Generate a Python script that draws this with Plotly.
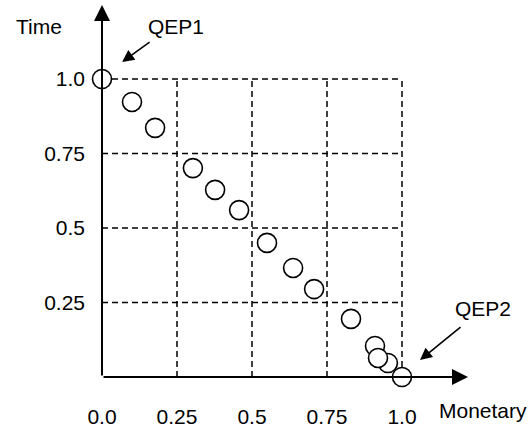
import plotly.graph_objects as go

# Data
monetary = [0.0, 0.10, 0.177, 0.303, 0.377, 0.457, 0.55, 0.637, 0.707, 0.83, 0.91, 0.953, 0.92, 1.0]
time_vals = [1.0, 0.923, 0.836, 0.701, 0.628, 0.560, 0.45, 0.366, 0.295, 0.195, 0.104, 0.047, 0.064, 0.0]
x_ticks = [0.0, 0.25, 0.5, 0.75, 1.0]
x_tick_labels = ["0.0", "0.25", "0.5", "0.75", "1.0"]
y_ticks = [0.25, 0.5, 0.75, 1.0]
y_tick_labels = ["0.25", "0.5", "0.75", "1.0"]
grid_vals = [0.25, 0.5, 0.75, 1.0]

FONT = "Liberation Sans, Arial, Helvetica, sans-serif"
FS = 21

W, H = 531, 428
ml, mr, mt, mb = 102, 63, 5, 51
xmax = (W - ml - mr) / 300.0
ymax = (H - mt - mb) / 298.0

fig = go.Figure()
fig.add_trace(go.Scatter(
    x=monetary, y=time_vals, mode="markers",
    marker=dict(size=19, color="white", line=dict(color="black", width=1.6)),
    cliponaxis=False, showlegend=False, hoverinfo="skip"))

shapes = []
for v in grid_vals:
    shapes.append(dict(type="line", xref="x", yref="y", x0=v, x1=v, y0=0, y1=1.0,
                       line=dict(color="black", width=1.5, dash="6px,4px"), layer="below"))
    shapes.append(dict(type="line", xref="x", yref="y", x0=0, x1=1.0, y0=v, y1=v,
                       line=dict(color="black", width=1.5, dash="6px,4px"), layer="below"))

annotations = [
    # axes with arrowheads
    dict(x=xmax, y=0, ax=0, ay=0, xref="x", yref="y", axref="x", ayref="y",
         showarrow=True, arrowhead=2, arrowsize=1.6, arrowwidth=2, arrowcolor="black", text=""),
    dict(x=0, y=ymax, ax=0, ay=0, xref="x", yref="y", axref="x", ayref="y",
         showarrow=True, arrowhead=2, arrowsize=1.6, arrowwidth=2, arrowcolor="black", text=""),
    # pointer arrows
    dict(x=0.067, y=1.057, ax=29, ay=-21, xref="x", yref="y",
         showarrow=True, arrowhead=2, arrowsize=1.5, arrowwidth=1.6, arrowcolor="black", text=""),
    dict(x=1.06, y=0.057, ax=42, ay=-34, xref="x", yref="y",
         showarrow=True, arrowhead=2, arrowsize=1.5, arrowwidth=1.6, arrowcolor="black", text=""),
]
labels = [("Time", -0.172, 0.941), ("QEP1", 0.202, 0.941),
          ("QEP2", 1.041, 0.185), ("Monetary", 1.041, -0.091)]
for t, lx, ly in labels:
    annotations.append(dict(x=lx, y=ly, xref="paper", yref="paper", text=t,
                            showarrow=False, xanchor="center", yanchor="middle"))

fig.update_layout(
    width=W, height=H,
    margin=dict(l=ml, r=mr, t=mt, b=mb, autoexpand=False),
    plot_bgcolor="white", paper_bgcolor="white",
    font=dict(family=FONT, size=FS, color="black"),
    shapes=shapes, annotations=annotations,
    xaxis=dict(range=[0, xmax], showgrid=False, zeroline=False, showline=False,
               tickvals=x_ticks, ticktext=x_tick_labels, ticks="", automargin=False,
               ticklabelstandoff=25, tickfont=dict(size=FS)),
    yaxis=dict(range=[0, ymax], showgrid=False, zeroline=False, showline=False,
               tickvals=y_ticks, ticktext=y_tick_labels, ticks="", automargin=False,
               ticklabelstandoff=16, tickfont=dict(size=FS)),
)

fig.write_html("out.html", config={"displayModeBar": False},
               post_script="document.body.style.margin='0';document.body.style.overflow='hidden';")
